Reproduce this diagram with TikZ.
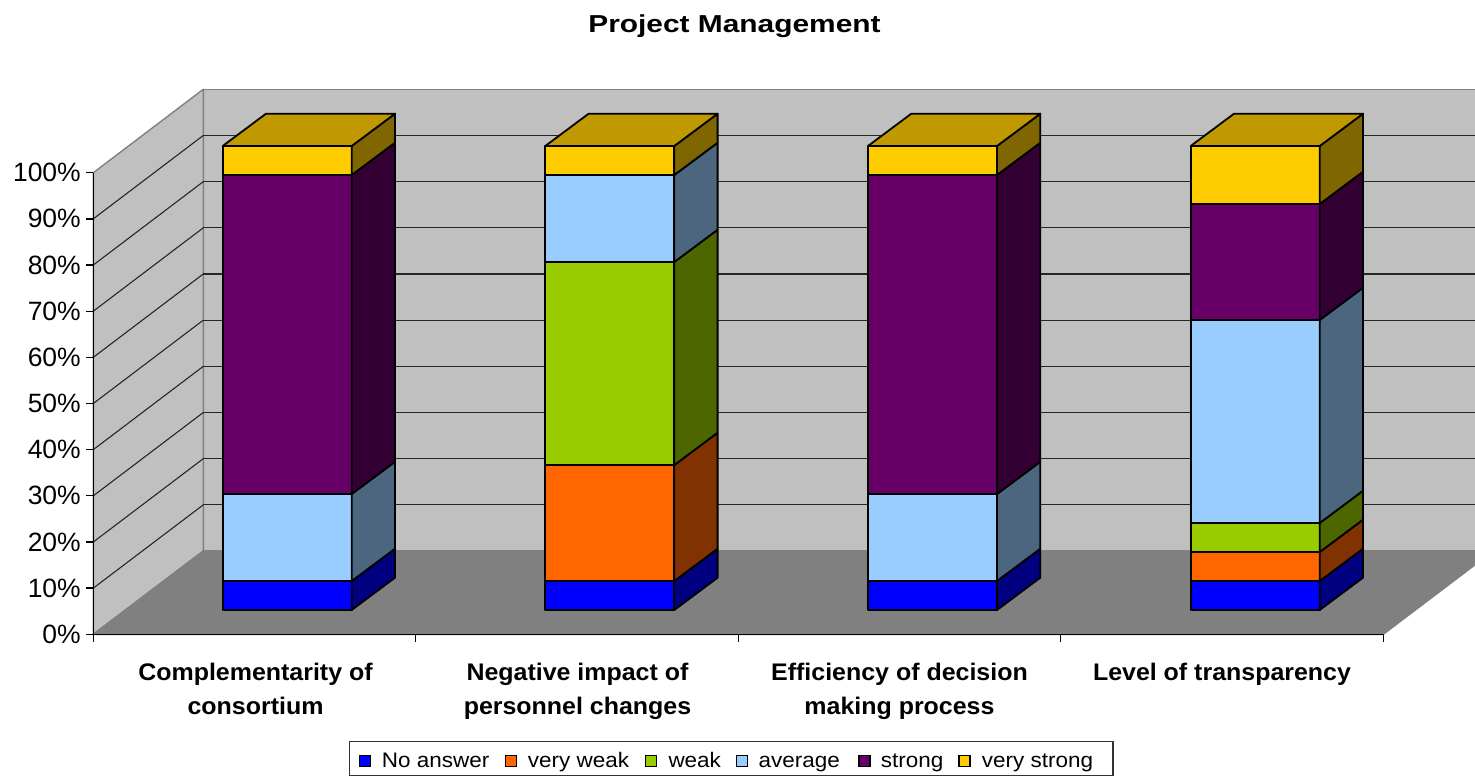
\documentclass[tikz,border=0pt]{standalone}
\usepackage{fontspec}
\setmainfont{Liberation Sans}
\definecolor{wallc}{HTML}{C0C0C0}
\definecolor{floorc}{HTML}{808080}
\definecolor{edgec}{HTML}{808080}
\definecolor{cblue}{HTML}{0000FF}\definecolor{sblue}{HTML}{000080}
\definecolor{corange}{HTML}{FF6600}\definecolor{sorange}{HTML}{803300}
\definecolor{cgreen}{HTML}{99CC00}\definecolor{sgreen}{HTML}{4D6600}
\definecolor{clblue}{HTML}{99CCFF}\definecolor{slblue}{HTML}{4D6680}
\definecolor{cpurple}{HTML}{660066}\definecolor{spurple}{HTML}{330033}
\definecolor{cyellow}{HTML}{FFCC00}\definecolor{syellow}{HTML}{806600}\definecolor{tyellow}{HTML}{C09900}
\newcommand{\bseg}[5]{%
  \filldraw[barline,fill=#4] (#1,#3) rectangle (#1+129,#2);
  \filldraw[barline,fill=#5] (#1+129,#3) -- (#1+172.3,#3-32.3) -- (#1+172.3,#2-32.3) -- (#1+129,#2) -- cycle;}
\newcommand{\btop}[1]{%
  \filldraw[barline,fill=tyellow] (#1,146) -- (#1+43.3,113.7) -- (#1+172.3,113.7) -- (#1+129,146) -- cycle;}
\tikzset{
  barline/.style={draw=black,line width=1.8pt,line join=round},
  wall/.style={draw=edgec,line width=1.4pt,line join=round},
  gridl/.style={draw=black!85,line width=1.1pt},
  axisl/.style={draw=black,line width=1.3pt},
  ylab/.style={anchor=east,inner sep=0pt,font=\fontsize{26.5}{30}\selectfont},
  catlab/.style={anchor=base,inner sep=0pt,font=\fontsize{24}{28}\selectfont\bfseries},
  leglab/.style={anchor=base west,inner sep=0pt,font=\fontsize{21}{25}\selectfont},
  legkey/.style={draw=black,line width=1.1pt},
}
\begin{document}
\begin{tikzpicture}[x=1pt,y=-1pt]
\useasboundingbox (0,0) rectangle (1475,776);
\clip (0,0) rectangle (1475,776);
% title
\node[anchor=base,inner sep=0pt,font=\fontsize{24.5}{29}\selectfont\bfseries] (title) at (734.5,33) {\scalebox{1.22}[1]{Project Management}};
% walls and floor
\filldraw[wall,fill=wallc] (203.3,89.3) rectangle (1493.3,551);
\filldraw[wall,fill=wallc] (93.3,172.7) -- (203.3,89.3) -- (203.3,551) -- (93.3,634.3) -- cycle;
\filldraw[wall,fill=floorc] (93.3,634.3) -- (1383.3,634.3) -- (1493.3,551) -- (203.3,551) -- cycle;
% gridlines
\foreach \k in {1,...,9}{
  \draw[gridl] (203.3,{551-46.17*\k}) -- (1493.3,{551-46.17*\k});
  \draw[gridl] (93.3,{634.3-46.16*\k}) -- (203.3,{551-46.17*\k});
}
% axes
\draw[axisl] (93.3,172.7) -- (93.3,634.3) -- (1383.3,634.3);
\foreach \k [evaluate=\k as \v using int(10*\k)] in {0,...,10}{
  \draw[axisl] (86,{634.3-46.16*\k}) -- (93.3,{634.3-46.16*\k});
  \node[ylab] (yl\k) at (81,{634.3-46.16*\k}) {\v\%};
}
\foreach \i in {0,...,4}{
  \draw[axisl] ({93.3+322.5*\i},634.3) -- ({93.3+322.5*\i},641.5);
}
% bar 1
\bseg{222.7}{581}{610}{cblue}{sblue}
\bseg{222.7}{494}{581}{clblue}{slblue}
\bseg{222.7}{175}{494}{cpurple}{spurple}
\bseg{222.7}{146}{175}{cyellow}{syellow}
\btop{222.7}
% bar 2
\bseg{545.3}{581}{610}{cblue}{sblue}
\bseg{545.3}{465}{581}{corange}{sorange}
\bseg{545.3}{262}{465}{cgreen}{sgreen}
\bseg{545.3}{175}{262}{clblue}{slblue}
\bseg{545.3}{146}{175}{cyellow}{syellow}
\btop{545.3}
% bar 3
\bseg{868}{581}{610}{cblue}{sblue}
\bseg{868}{494}{581}{clblue}{slblue}
\bseg{868}{175}{494}{cpurple}{spurple}
\bseg{868}{146}{175}{cyellow}{syellow}
\btop{868}
% bar 4
\bseg{1190.7}{581}{610}{cblue}{sblue}
\bseg{1190.7}{552}{581}{corange}{sorange}
\bseg{1190.7}{523}{552}{cgreen}{sgreen}
\bseg{1190.7}{320}{523}{clblue}{slblue}
\bseg{1190.7}{204}{320}{cpurple}{spurple}
\bseg{1190.7}{146}{204}{cyellow}{syellow}
\btop{1190.7}
% category labels
\node[catlab] (c1a) at (255.5,680) {\scalebox{1.04}[1]{Complementarity of}};
\node[catlab] (c1b) at (255.5,714) {\scalebox{1.04}[1]{consortium}};
\node[catlab] (c2a) at (577.5,680) {\scalebox{1.04}[1]{Negative impact of}};
\node[catlab] (c2b) at (577.5,714) {\scalebox{1.04}[1]{personnel changes}};
\node[catlab] (c3a) at (899.5,680) {\scalebox{1.04}[1]{Efficiency of decision}};
\node[catlab] (c3b) at (899.5,714) {\scalebox{1.04}[1]{making process}};
\node[catlab] (c4a) at (1222,680) {\scalebox{1.04}[1]{Level of transparency}};
% legend
\draw[draw=black!80,line width=1.2pt] (349.3,741.7) rectangle (1113,775.5);
\filldraw[legkey,fill=cblue] (359.3,755.7) rectangle (370.3,766.7);
\node[leglab] (l1) at (381.7,767.3) {\scalebox{1.07}[1]{No answer}};
\filldraw[legkey,fill=corange] (505.7,755.7) rectangle (516.7,766.7);
\node[leglab] (l2) at (527.7,767.3) {\scalebox{1.07}[1]{very weak}};
\filldraw[legkey,fill=cgreen] (645.7,755.7) rectangle (656.7,766.7);
\node[leglab] (l3) at (668.3,767.3) {\scalebox{1.07}[1]{weak}};
\filldraw[legkey,fill=clblue] (736.7,755.7) rectangle (747.7,766.7);
\node[leglab] (l4) at (758.5,767.3) {\scalebox{1.07}[1]{average}};
\filldraw[legkey,fill=cpurple] (859,755.7) rectangle (870,766.7);
\node[leglab] (l5) at (880.7,767.3) {\scalebox{1.07}[1]{strong}};
\filldraw[legkey,fill=cyellow] (959,755.7) rectangle (970,766.7);
\node[leglab] (l6) at (981.7,767.3) {\scalebox{1.07}[1]{very strong}};
\end{tikzpicture}
\end{document}
